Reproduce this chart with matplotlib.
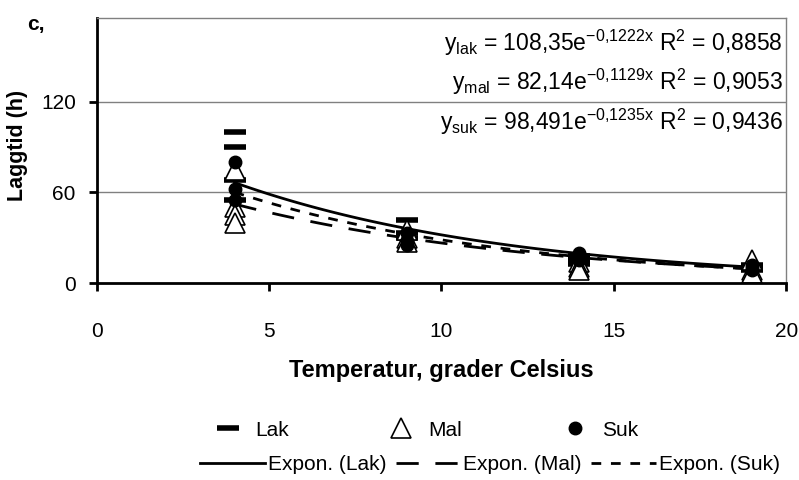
import numpy as np
import matplotlib.pyplot as plt

plt.rcParams['font.family'] = ['Liberation Sans', 'DejaVu Sans']

# measured lag times (h) at each temperature
lak_x = [4, 4, 4, 4, 9, 9, 9, 14, 14, 14, 19, 19, 19]
lak_y = [100, 90, 68, 55, 42, 33, 30, 18, 15, 13, 12, 10, 9]
mal_x = [4, 4, 4, 4, 9, 9, 9, 14, 14, 14, 19, 19, 19]
mal_y = [75, 50, 45, 40, 35, 30, 27, 14, 11, 9, 15, 9, 7]
suk_x = [4, 4, 4, 9, 9, 9, 14, 14, 14, 19, 19, 19]
suk_y = [80, 62, 55, 33, 28, 25, 20, 17, 15, 12, 10, 9]

# exponential trendline coefficients (a, b) from the chart labels
fit_lak = (108.35, -0.1222)
fit_mal = (82.14, -0.1129)
fit_suk = (98.491, -0.1235)

fig = plt.figure(figsize=(7.99, 4.8), dpi=100)
ax = fig.add_axes([0.121, 0.41, 0.863, 0.552])

ax.set_xlim(0, 20)
ax.set_ylim(0, 175)
ax.set_xticks([0, 5, 10, 15, 20])
ax.set_yticks([0, 60, 120])
for y in [60, 120]:
    ax.axhline(y, color='#808080', lw=1, zorder=0)

for s in ['top', 'right']:
    ax.spines[s].set_color('#808080')
    ax.spines[s].set_linewidth(1)
for s in ['left', 'bottom']:
    ax.spines[s].set_linewidth(2)
ax.tick_params(width=2, length=6, labelsize=15)
ax.tick_params(axis='x', pad=22)
ax.tick_params(axis='y', pad=9)

xs = np.linspace(4, 19, 100)
l1, = ax.plot(xs, fit_lak[0] * np.exp(fit_lak[1] * xs), color='black', lw=2,
              label='Expon. (Lak)')
l2, = ax.plot(xs, fit_mal[0] * np.exp(fit_mal[1] * xs), color='black', lw=2,
              ls=(0, (8, 6)), label='Expon. (Mal)')
l3, = ax.plot(xs, fit_suk[0] * np.exp(fit_suk[1] * xs), color='black', lw=2,
              ls=(0, (3.5, 3.5)), label='Expon. (Suk)')

p1, = ax.plot(lak_x, lak_y, ls='none', marker='_', ms=16, mew=4, color='black',
              label='Lak')
p2, = ax.plot(mal_x, mal_y, ls='none', marker='^', ms=14, mfc='white', mec='black',
              mew=1.2, label='Mal')
p3, = ax.plot(suk_x, suk_y, ls='none', marker='o', ms=9, color='black', label='Suk')

eqs = [
    r'$\mathregular{y_{lak}}$ = 108,35e$^{\mathregular{-0{,}1222x}}$ R$^{\mathregular{2}}$ = 0,8858',
    r'$\mathregular{y_{mal}}$ = 82,14e$^{\mathregular{-0{,}1129x}}$ R$^{\mathregular{2}}$ = 0,9053',
    r'$\mathregular{y_{suk}}$ = 98,491e$^{\mathregular{-0{,}1235x}}$ R$^{\mathregular{2}}$ = 0,9436',
]
for yy, s in zip([0.906, 0.758, 0.608], eqs):
    ax.text(0.995, yy, s, transform=ax.transAxes, ha='right', va='center', fontsize=16.5)

ax.set_xlabel('Temperatur, grader Celsius', fontsize=17, fontweight='bold', labelpad=13)
ax.set_ylabel('Laggtid (h)', fontsize=15.5, fontweight='bold')
ax.yaxis.set_label_coords(-0.1, 0.52)
fig.text(0.034, 0.948, 'c,', fontsize=15, fontweight='bold', va='center')

fig.legend([p1, p2, p3], ['Lak', 'Mal', 'Suk'],
           ncol=3, loc='center left', bbox_to_anchor=(207 / 799, 1 - 430 / 480),
           frameon=False, fontsize=15, handlelength=2.0, handletextpad=0.3,
           columnspacing=4.4, borderpad=0, borderaxespad=0)
fig.legend([l1, l2, l3], ['Expon. (Lak)', 'Expon. (Mal)', 'Expon. (Suk)'],
           ncol=3, loc='center left', bbox_to_anchor=(200 / 799, 1 - 465 / 480),
           frameon=False, fontsize=15, handlelength=3.1, handletextpad=0.15,
           columnspacing=0.45, borderpad=0, borderaxespad=0)

fig.savefig('out.png', dpi=100)
